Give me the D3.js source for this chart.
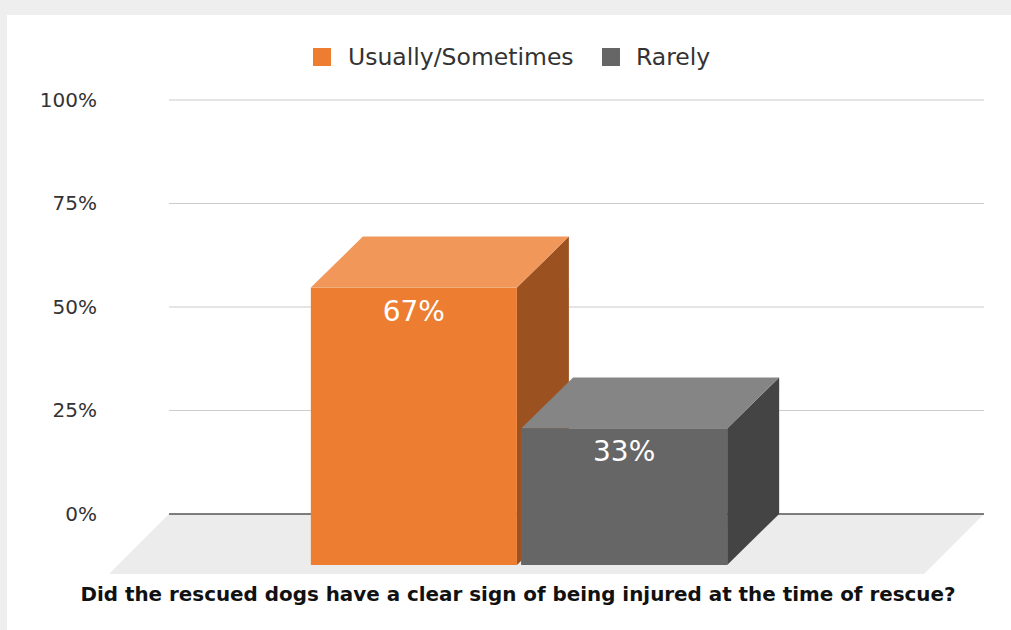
<!DOCTYPE html>
<html>
<head>
<meta charset="utf-8">
<script src="https://cdn.jsdelivr.net/npm/d3@7"></script>
<style>
  html, body { margin: 0; padding: 0; background: #eeeeee; }
  svg { display: block; }
</style>
</head>
<body>
<svg id="chart" width="1011" height="630"></svg>
<script>
// Survey question and answers
const categories = ["Did the rescued dogs have a clear sign of being injured at the time of rescue?"];
const seriesNames = ["Usually/Sometimes", "Rarely"];
const seriesValues = [0.67, 0.33];
const valueLabels = ["67%", "33%"];
const tickValues = [0, 0.25, 0.5, 0.75, 1];
const tickLabels = ["0%", "25%", "50%", "75%", "100%"];

// Face colours for each series: front, top, side
const palette = {
  "Usually/Sometimes": { front: "#ED7D31", top: "#F1975A", side: "#9B5120" },
  "Rarely":            { front: "#666666", top: "#858585", side: "#444444" }
};

const W = 1011, H = 630;
const svg = d3.select("#chart");
const font = "'DejaVu Sans', Verdana, sans-serif";

// white card
svg.append("rect").attr("x", 7).attr("y", 15).attr("width", W - 7).attr("height", H - 15).attr("fill", "#ffffff");

const plotLeft = 169, plotRight = 984;
const y = d3.scaleLinear().domain([0, 1]).range([514, 100]);

// 3D depth: front faces sit down-left of the back plane
const depthX = 52, depthY = 51;
const floorDepth = 60;

// gridlines + tick labels
const yAxis = d3.axisLeft(y).tickValues(tickValues).tickFormat((d, i) => tickLabels[i]).tickSize(0).tickPadding(0);
const axisG = svg.append("g").attr("transform", "translate(97,0)").call(yAxis);
axisG.select(".domain").remove();
axisG.selectAll("text")
  .attr("font-family", font).attr("font-size", 20).attr("fill", "#333333")
  .attr("dy", "0.3em");

svg.append("g").selectAll("line")
  .data(tickValues.filter(d => d > 0))
  .join("line")
  .attr("x1", plotLeft).attr("x2", plotRight)
  .attr("y1", d => y(d)).attr("y2", d => y(d))
  .attr("stroke", "#cccccc").attr("stroke-width", 1.2);

// floor plane
const y0 = y(0);
svg.append("polygon")
  .attr("points", [[plotLeft, y0], [plotRight, y0], [plotRight - floorDepth, y0 + floorDepth], [plotLeft - floorDepth, y0 + floorDepth]].map(p => p.join(",")).join(" "))
  .attr("fill", "#ececec");

svg.append("line")
  .attr("x1", plotLeft).attr("x2", plotRight).attr("y1", y0).attr("y2", y0)
  .attr("stroke", "#555555").attr("stroke-width", 1.5);

// bar positions on the back plane
const x0 = d3.scaleBand().domain(categories).range([163, 979]).paddingOuter(0.48).paddingInner(0);
const x1 = d3.scaleBand().domain(seriesNames).range([0, x0.bandwidth()]).paddingInner(0.02);

const bars = seriesNames.map((s, i) => ({ name: s, value: seriesValues[i], label: valueLabels[i] }));
const barG = svg.append("g");

bars.forEach(b => {
  const bx = x0(categories[0]) + x1(b.name);   // back-left x
  const bw = x1.bandwidth();
  const by = y(b.value);                        // back-top y
  const fx = bx - depthX, fy = by + depthY;     // front-top-left
  const fb = y0 + depthY;                       // front bottom
  const c = palette[b.name];
  const g = barG.append("g");
  const poly = pts => pts.map(p => p.join(",")).join(" ");
  // side face
  g.append("polygon").attr("fill", c.side)
    .attr("points", poly([[fx + bw, fy], [bx + bw, by], [bx + bw, y0], [fx + bw, fb]]));
  // top face
  g.append("polygon").attr("fill", c.top)
    .attr("points", poly([[fx, fy], [bx, by], [bx + bw, by], [fx + bw, fy]]));
  // front face
  g.append("rect").attr("fill", c.front)
    .attr("x", fx).attr("y", fy).attr("width", bw).attr("height", fb - fy);
  // value label
  g.append("text")
    .attr("x", fx + bw / 2).attr("y", fy + 33)
    .attr("text-anchor", "middle")
    .attr("font-family", font).attr("font-size", 28).attr("fill", "#ffffff")
    .text(b.label);
});

// legend
const legendItems = [{ name: seriesNames[0], x: 313, tx: 348 }, { name: seriesNames[1], x: 602, tx: 636 }];
const lg = svg.append("g");
legendItems.forEach(it => {
  lg.append("rect").attr("x", it.x).attr("y", 48).attr("width", 18).attr("height", 18)
    .attr("fill", palette[it.name].front);
  lg.append("text").attr("x", it.tx).attr("y", 65)
    .attr("font-family", font).attr("font-size", 23.5).attr("fill", "#333333")
    .text(it.name);
});

// category title below the floor
svg.append("text")
  .attr("x", 518).attr("y", 601)
  .attr("text-anchor", "middle")
  .attr("font-family", font).attr("font-weight", "bold").attr("font-size", 19.9).attr("fill", "#111111")
  .text(categories[0]);
</script>
</body>
</html>
